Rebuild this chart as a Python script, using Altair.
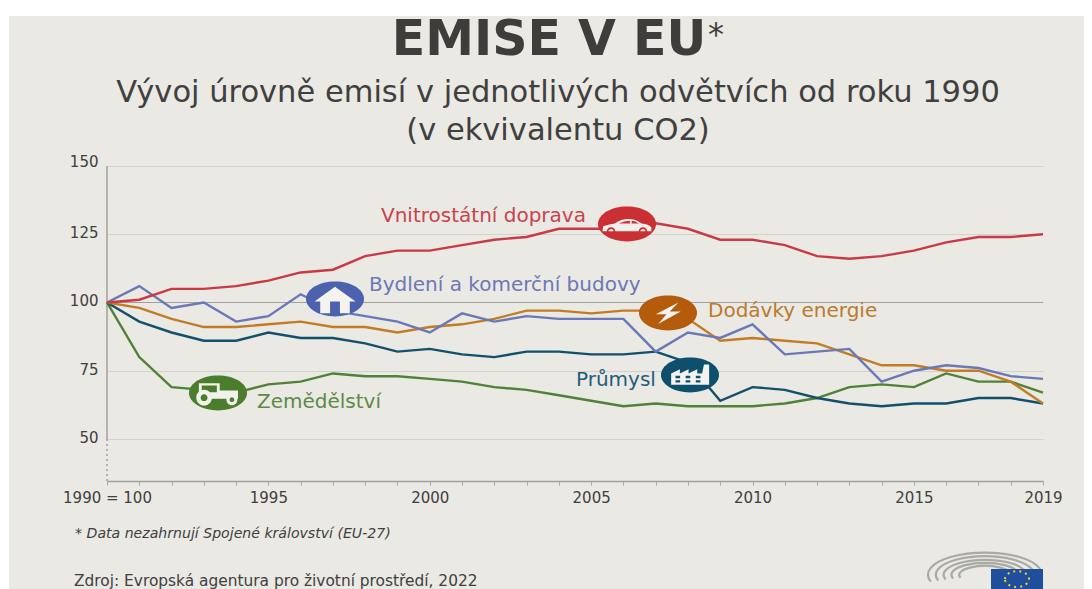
import altair as alt
import pandas as pd

years = list(range(1990, 2020))
doprava = [100,101,105,105,106,108,111,112,117,119,119,121,123,124,127,127,127,129,127,123,123,121,117,116,117,119,122,124,124,125]
budovy = [100,106,98,100,93,95,103,97,95,93,89,96,93,95,94,94,94,82,89,87,92,81,82,83,71,75,77,76,73,72]
energie = [100,98,94,91,91,92,93,91,91,89,91,92,94,97,97,96,97,97,94,86,87,86,85,81,77,77,75,75,71,63]
prumysl = [100,93,89,86,86,89,87,87,85,82,83,81,80,82,82,81,81,82,78,64,69,68,65,63,62,63,63,65,65,63]
zemedelstvi = [100,80,69,68,67,70,71,74,73,73,72,71,69,68,66,64,62,63,62,62,62,63,65,69,70,69,74,71,71,67]
y_ticks = [50, 75, 100, 125, 150]

FONT = "DejaVu Sans"
BG = "#EAE9E4"
TXT = "#404040"
OX, OY, W, H = 107, 166, 936, 315
Y_DOMAIN = [34.6, 150]
X_DOMAIN = [1990, 2019]

series = [
    ("Zemědělství", zemedelstvi, "#4F8236"),
    ("Průmysl", prumysl, "#12506C"),
    ("Dodávky energie", energie, "#C27C24"),
    ("Bydlení a komerční budovy", budovy, "#6B78B8"),
    ("Vnitrostátní doprava", doprava, "#C93A44"),
]

xs = alt.Scale(domain=X_DOMAIN, nice=False, zero=False)
ys = alt.Scale(domain=Y_DOMAIN, nice=False, zero=False)
x_axis = alt.Axis(
    values=years, labelExpr="datum.value==1990 ? '1990 = 100' : (datum.value%5==0 || datum.value==2019) ? ''+datum.value : ''",
    labelOverlap=False, labelFlush=False, labelFont=FONT, labelFontSize=15, labelColor=TXT, labelPadding=5,
    tickColor="#A8A8A4", tickSize=4, domainColor="#A0A09C", domainWidth=1.5, grid=False)
y_axis = alt.Axis(
    values=y_ticks, labelFont=FONT, labelFontSize=15, labelColor=TXT,
    labelOffset={"condition": {"test": "datum.value==150", "value": -5}, "value": -1.5}, labelPadding=9,
    domain=False, ticks=False, grid=True, gridColor="#D2D1CC", gridWidth=1)


def X(field):
    return alt.X(field, scale=xs, title=None, axis=x_axis)


def Y(field):
    return alt.Y(field, scale=ys, title=None, axis=y_axis)


one = pd.DataFrame({"a": [0]})


def text(s, px, py, size, color=TXT, align="left", **kw):
    return alt.Chart(one).mark_text(
        text=s, font=FONT, fontSize=size, color=color, align=align, baseline="middle", **kw
    ).encode(x=alt.value(px - OX), y=alt.value(py - OY))


def symbol(path, px, py, width, fill=None, stroke=None, sw=1.0, dash=None):
    kw = {}
    if fill:
        kw.update(filled=True, fill=fill, opacity=1, strokeWidth=0)
    else:
        kw.update(filled=False, stroke=stroke, strokeWidth=sw, opacity=1)
    if dash:
        kw["strokeDash"] = dash
    return alt.Chart(one).mark_point(shape=path, size=width * width, **kw).encode(
        x=alt.value(px - OX), y=alt.value(py - OY)
    )


def box(x1, x2, y1, y2, color):
    return alt.Chart(one).mark_rect(color=color).encode(
        x=alt.value(x1 - OX), x2=alt.value(x2 - OX), y=alt.value(y1 - OY), y2=alt.value(y2 - OY)
    )


def circle(cx, cy, r, sweep=1):
    return f"M{cx-r},{cy} A{r},{r} 0 1,{sweep} {cx+r},{cy} A{r},{r} 0 1,{sweep} {cx-r},{cy} Z "


ELL = "M-1,0 A1,0.6 0 1,1 1,0 A1,0.6 0 1,1 -1,0 Z"
HOUSE = "M0,-0.42 L0.71,0.09 L0.51,0.09 L0.51,0.49 L0.17,0.49 L0.17,0.09 L-0.17,0.09 L-0.17,0.49 L-0.51,0.49 L-0.51,0.09 L-0.71,0.09 Z"
BOLT = "M0.36,-0.36 L-0.42,0.04 L-0.05,0.04 L-0.34,0.38 L0.44,-0.05 L0.06,-0.05 Z"
FACTORY = "M-0.65,-0.05 L-0.35,-0.2 L-0.35,-0.05 L-0.05,-0.2 L-0.05,-0.05 L0.25,-0.2 L0.25,-0.05 L0.42,-0.05 L0.48,-0.36 L0.66,-0.36 L0.66,0.34 L-0.65,0.34 Z "
for wx in (-0.5, -0.15, 0.2):
    for wy in (0.03, 0.18):
        FACTORY += f"M{wx},{wy} L{wx},{wy+0.08} L{wx+0.16},{wy+0.08} L{wx+0.16},{wy} Z "
TRACTOR = ("M-0.66,-0.34 L0.06,-0.34 L0.06,-0.09 L0.69,-0.09 L0.69,0.2 L-0.66,0.2 Z "
           "M-0.56,-0.26 L-0.56,-0.03 L-0.04,-0.03 L-0.04,-0.26 Z "
           + circle(-0.48, 0.16, 0.27) + circle(0.48, 0.23, 0.19))
TRACTOR_HUB = circle(-0.48, 0.16, 0.12) + circle(0.48, 0.23, 0.08)
CAR = ("M-0.85,0.25 L-0.82,0.08 Q-0.6,0.0 -0.42,-0.02 Q-0.2,-0.17 0.05,-0.17 Q0.3,-0.17 0.5,-0.02 "
       "Q0.75,0.0 0.84,0.12 L0.84,0.25 Z "
       "M-0.28,-0.02 L0.1,-0.02 L0.1,-0.11 Q-0.1,-0.11 -0.28,-0.02 Z "
       "M0.16,-0.02 L0.4,-0.02 Q0.3,-0.11 0.16,-0.11 Z")
CAR_WHEELS = (circle(-0.55, 0.26, 0.15) + circle(-0.55, 0.26, 0.09, 0)
              + circle(0.55, 0.26, 0.15) + circle(0.55, 0.26, 0.09, 0))

arcs = ""
for rx, ry in ((0.95, 0.37), (0.82, 0.31), (0.69, 0.25), (0.56, 0.2), (0.43, 0.15)):
    arcs += f"M{-rx*0.95},{ry*0.3} A{rx},{ry} 0 1,1 {rx*0.95},{ry*0.3} "

hundred = alt.Chart(pd.DataFrame({"year": [1990], "end": [2019], "v": [100]})).mark_rule(
    color="#A0A09C", strokeWidth=1.2
).encode(x=X("year:Q"), x2="end:Q", y=Y("v:Q"))
axis_solid = alt.Chart(pd.DataFrame({"year": [1990], "a": [50], "b": [150]})).mark_rule(
    color="#8E8E8A", strokeWidth=1.2
).encode(x=X("year:Q"), y=Y("a:Q"), y2="b:Q")
axis_dotted = alt.Chart(pd.DataFrame({"year": [1990], "a": [Y_DOMAIN[0]], "b": [50]})).mark_rule(
    color="#8E8E8A", strokeWidth=1.2, strokeDash=[2, 3]
).encode(x=X("year:Q"), y=Y("a:Q"), y2="b:Q")

lines = []
for name, vals, col in series:
    df = pd.DataFrame({"year": years, "v": vals})
    lines.append(alt.Chart(df).mark_line(color=col, strokeWidth=2.4).encode(x=X("year:Q"), y=Y("v:Q")))

marks = [
    symbol(ELL, 627, 224, 58, fill="#C92F33"),
    symbol(CAR, 627, 224, 58, fill="#F2EFEA"),
    symbol(CAR_WHEELS, 627, 224, 58, fill="#C92F33"),
    symbol(ELL, 335, 299, 58, fill="#4C62AE"),
    symbol(HOUSE, 335, 299, 58, fill="#F4F3EF"),
    symbol(ELL, 668, 313, 58, fill="#B55B0C"),
    symbol(BOLT, 668, 313, 58, fill="#F4F3EF"),
    symbol(ELL, 690, 375, 58, fill="#0D4F6C"),
    symbol(FACTORY, 690, 375, 58, fill="#F4F3EF"),
    symbol(ELL, 218, 393, 58, fill="#4A7D2C"),
    symbol(TRACTOR, 218, 393, 58, fill="#F2F1EA"),
    symbol(TRACTOR_HUB, 218, 393, 58, fill="#4A7D2C"),
]

labels = [
    text("Vnitrostátní doprava", 381, 216, 20, "#C8434C"),
    text("Bydlení a komerční budovy", 369, 285, 20, "#6C78B6"),
    text("Dodávky energie", 708, 311, 20, "#BB7A2E"),
    text("Průmysl", 576, 380, 20, "#1F5E7A"),
    text("Zemědělství", 257, 402, 20, "#5E8A48"),
    text("EMISE V EU", 549, 40, 49, "#3F3D3B", align="center", fontWeight="bold"),
    text("*", 716, 35, 32, "#3F3D3B", align="center"),
    text("Vývoj úrovně emisí v jednotlivých odvětvích od roku 1990", 558, 92.5, 30.5, TXT, align="center"),
    text("(v ekvivalentu CO2)", 558, 130.5, 30.5, TXT, align="center"),
    text("* Data nezahrnují Spojené království (EU-27)", 75, 534, 14.1, TXT, fontStyle="italic"),
    text("Zdroj: Evropská agentura pro životní prostředí, 2022", 74, 581, 15.4, TXT),
]

logo = [
    symbol(arcs, 985, 575, 120, stroke="#A9A9A5", sw=2.2),
    box(991, 1043, 569, 589, "#1F4E9C"),
    symbol("M-1,0 A1,0.66 0 1,1 1,0 A1,0.66 0 1,1 -1,0 Z", 1017, 579, 24, stroke="#F2D437", sw=2, dash=[2, 4]),
]

strips = [box(8, 1092, 8, 16, "white"), box(8, 9, 8, 589, "white")]

chart = alt.layer(hundred, axis_solid, axis_dotted, *lines, *marks, *labels, *logo, *strips).properties(
    width=W, height=H, background=BG,
    padding={"left": OX - 8, "top": OY - 8, "right": 1076 - (OX - 8) - W, "bottom": 581 - (OY - 8) - H},
    autosize=alt.AutoSizeParams(type="none"),
).configure_view(stroke=None)

chart.save("out.html", embed_options={"renderer": "svg", "actions": False})
